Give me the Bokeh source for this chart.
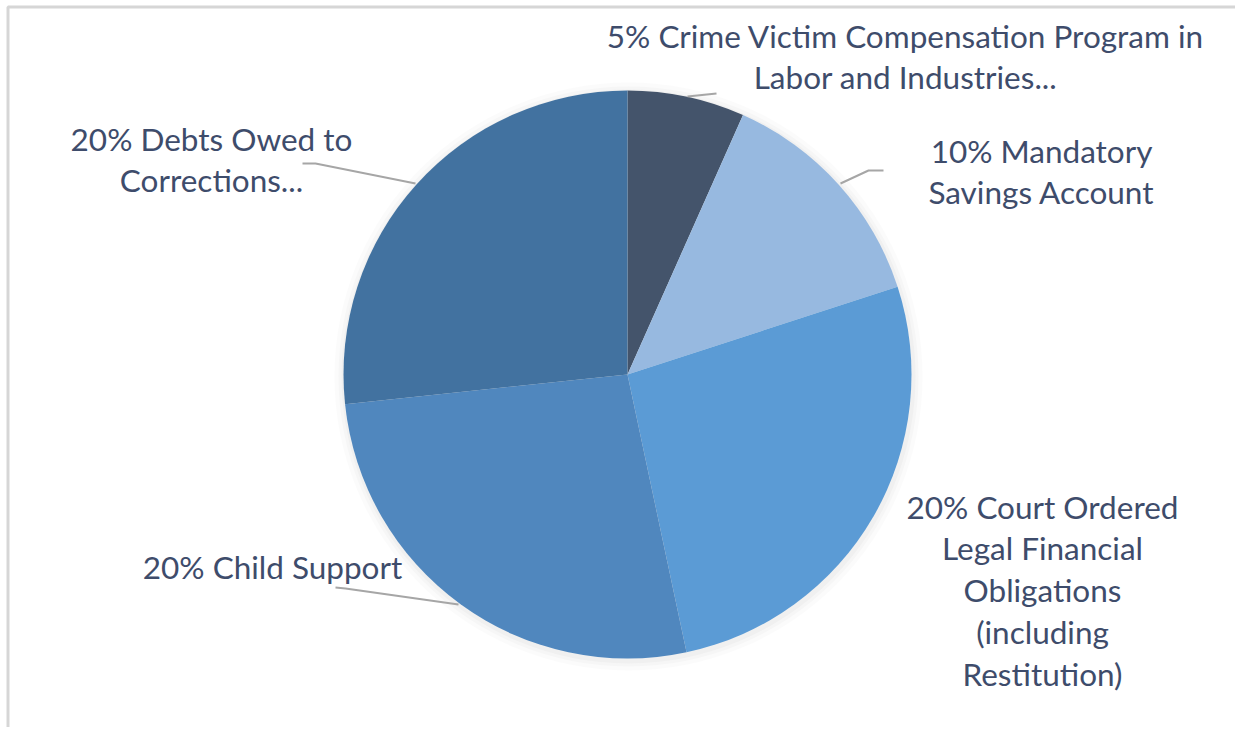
import numpy as np
from bokeh.plotting import figure
from bokeh.models import Range1d, ColumnDataSource
from bokeh.core.properties import value
from bokeh.embed import file_html
from bokeh.resources import INLINE

# ---- data ----
categories = [
    "Crime Victim Compensation Program in Labor and Industries...",
    "Mandatory Savings Account",
    "Court Ordered Legal Financial Obligations (including Restitution)",
    "Child Support",
    "Debts Owed to Corrections...",
]
percents = [5, 10, 20, 20, 20]
colors = ["#44546B", "#97B9E0", "#5B9BD5", "#5087BE", "#4272A0"]
label_lines = [
    ["5% Crime Victim Compensation Program in", "Labor and Industries..."],
    ["10% Mandatory", "Savings Account"],
    ["20% Court Ordered", "Legal Financial", "Obligations", "(including", "Restitution)"],
    ["20% Child Support"],
    ["20% Debts Owed to", "Corrections..."],
]

# ---- layout (picture pixel coordinates) ----
W, H = 1235, 727
def Y(py):
    return H - py

cx, cy, R = 627, Y(374), 284
label_pos = [(905, 35), (1041, 150), (1042, 506), (272, 566), (211, 138)]
line_gap = 41.8
leaders = [
    [(687, 96), (716, 93)],
    [(840, 183), (868, 170), (883, 170)],
    None,
    [(458, 604), (345, 588), (335, 587)],
    [(415, 183), (315, 163), (302, 163)],
]

p = figure(width=W, height=H, x_range=Range1d(0, W), y_range=Range1d(0, H),
           output_backend="svg", toolbar_location=None, min_border=0,
           background_fill_color="white", border_fill_color="white")
p.axis.visible = False
p.grid.visible = False
p.outline_line_color = None

# frame (top & left)
p.line([7.5, 7.5, W], [0, Y(6.5), Y(6.5)], line_color="#D6D6D6", line_width=3)

# soft shadow
for k, a in [(10, 0.03), (6, 0.04), (3, 0.05)]:
    p.circle(x=[cx + 1], y=[cy - 2], radius=R + k, fill_color="#808080",
             fill_alpha=a, line_color=None)

# wedges, clockwise from top
total = sum(percents)
fr = np.array(percents) / total
ends_cum = np.cumsum(fr)
starts_cum = ends_cum - fr
start_ang = np.pi / 2 - ends_cum * 2 * np.pi
end_ang = np.pi / 2 - starts_cum * 2 * np.pi
src = ColumnDataSource(dict(start=start_ang, end=end_ang, color=colors, cat=categories))
p.wedge(x=cx, y=cy, radius=R, start_angle="start", end_angle="end",
        fill_color="color", line_color=None, source=src)

# leader lines
for ld in leaders:
    if ld is None:
        continue
    p.line([q[0] for q in ld], [Y(q[1]) for q in ld], line_color="#A6A6A6", line_width=2)

# labels
xs, ys, ts = [], [], []
for (lx, ly), lines in zip(label_pos, label_lines):
    for i, t in enumerate(lines):
        xs.append(lx)
        ys.append(Y(ly + i * line_gap))
        ts.append(t)
p.text(x=xs, y=ys, text=ts, text_font=value("Lato"), text_font_size="31.5px",
       text_color="#3E4C6B", text_align="center", text_baseline="middle")

open("out.html", "w").write(file_html(p, INLINE))
